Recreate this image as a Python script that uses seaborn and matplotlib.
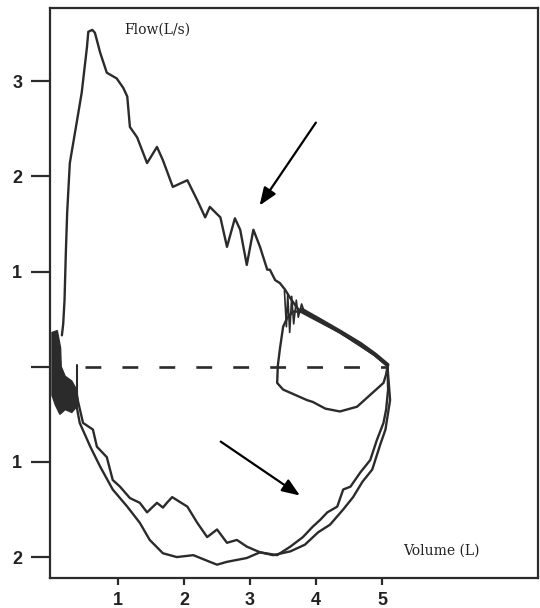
import matplotlib
matplotlib.use("Agg")
import matplotlib.pyplot as plt
import seaborn as sns
import pandas as pd

# ---------------- data (Volume L, Flow L/s) ----------------
exp_vol = [0.15, 0.17, 0.19, 0.21, 0.23, 0.27, 0.38, 0.45, 0.53, 0.55, 0.61, 0.65, 0.73, 0.83,
           0.98, 1.08, 1.14, 1.18, 1.29, 1.44, 1.59, 1.68, 1.83, 2.05, 2.20, 2.32, 2.39,
           2.55, 2.65, 2.77, 2.85, 2.95, 3.05, 3.15, 3.26, 3.30, 3.38, 3.45, 3.53, 3.61, 3.68,
           3.76, 4.06, 4.36, 4.67, 4.89, 5.08]
exp_flow = [0.33, 0.45, 0.70, 1.20, 1.62, 2.14, 2.59, 2.88, 3.36, 3.52, 3.54, 3.51, 3.30, 3.09,
            3.03, 2.93, 2.84, 2.52, 2.41, 2.14, 2.31, 2.17, 1.89, 1.96, 1.75, 1.57, 1.68,
            1.57, 1.26, 1.56, 1.44, 1.07, 1.44, 1.26, 1.02, 1.02, 0.91, 0.88, 0.81, 0.72, 0.65,
            0.58, 0.47, 0.36, 0.22, 0.12, 0.01]

spike_vol = [3.52, 3.55, 3.57, 3.60, 3.63, 3.66, 3.70, 3.73, 3.78, 3.82]
spike_flow = [0.80, 0.42, 0.76, 0.36, 0.74, 0.45, 0.70, 0.52, 0.66, 0.58]

band_vol = [3.78, 4.06, 4.36, 4.67, 4.89, 5.08]
band_flow = [0.60, 0.49, 0.37, 0.24, 0.13, 0.02]

tidal_vol = [5.08, 5.06, 5.02, 4.86, 4.62, 4.36, 4.14, 3.95, 3.86, 3.50, 3.41, 3.42, 3.45,
             3.50, 3.56, 3.65, 3.76]
tidal_flow = [0.00, -0.08, -0.17, -0.27, -0.42, -0.47, -0.44, -0.37, -0.35, -0.24, -0.17,
              0.01, 0.18, 0.42, 0.51, 0.58, 0.58]

insp_b_vol = [5.08, 5.09, 5.06, 5.02, 4.92, 4.82, 4.67, 4.52, 4.41, 4.32, 4.17, 4.06, 3.95,
              3.80, 3.61, 3.41, 3.15, 2.95, 2.80, 2.65, 2.50, 2.35, 2.20, 2.05, 1.82, 1.74,
              1.68, 1.59, 1.44, 1.33, 1.18, 1.03, 0.92, 0.83, 0.68, 0.62, 0.47, 0.38, 0.30]
insp_b_flow = [0.01, -0.24, -0.45, -0.59, -0.77, -0.98, -1.11, -1.26, -1.29, -1.47, -1.53,
               -1.61, -1.68, -1.79, -1.89, -1.98, -1.95, -1.89, -1.82, -1.85, -1.71, -1.79,
               -1.64, -1.47, -1.37, -1.43, -1.48, -1.43, -1.53, -1.43, -1.38, -1.26, -1.19,
               -0.95, -0.84, -0.66, -0.59, -0.32, -0.19]

insp_a_vol = [5.08, 5.12, 5.05, 4.97, 4.85, 4.70, 4.56, 4.41, 4.21, 4.03, 3.83, 3.61, 3.35,
              3.15, 2.95, 2.65, 2.50, 2.39, 2.14, 1.89, 1.68, 1.48, 1.33, 1.14, 0.92, 0.73,
              0.58, 0.42, 0.35]
insp_a_flow = [0.01, -0.35, -0.66, -0.82, -1.08, -1.21, -1.37, -1.50, -1.66, -1.74, -1.87,
               -1.94, -1.98, -1.95, -2.01, -2.05, -2.08, -2.05, -1.98, -2.00, -1.96, -1.82,
               -1.64, -1.47, -1.29, -1.05, -0.84, -0.59, -0.33]

blob_vol = [0.00, 0.08, 0.13, 0.14, 0.20, 0.30, 0.38, 0.40, 0.30, 0.20, 0.12, 0.05, 0.00]
blob_flow = [0.36, 0.38, 0.20, 0.00, -0.10, -0.15, -0.25, -0.40, -0.48, -0.45, -0.50, -0.40,
             -0.30]

zero_vol = [0.50, 5.08]
zero_flow = [0.0, 0.0]

y_ticks = [-2, -1, 0, 1, 2, 3]
y_labels = ["2", "1", "", "1", "2", "3"]
x_ticks = [1, 2, 3, 4, 5]
x_labels = ["1", "2", "3", "4", "5"]

# ---------------- plot ----------------
sns.set_theme(style="white")
plt.rcParams["font.family"] = ["Liberation Sans", "DejaVu Sans"]

fig = plt.figure(figsize=(5.4, 6.08), dpi=100)
ax = fig.add_axes([50 / 540, 30 / 608, 488 / 540, 570 / 608])

ink = "#2b2b2b"

def curve(v, f, lw=1.5, **kw):
    df = pd.DataFrame({"v": v, "f": f})
    sns.lineplot(data=df, x="v", y="f", sort=False, estimator=None, ax=ax,
                 color=ink, linewidth=lw, **kw)

curve(exp_vol, exp_flow, lw=1.7)
curve(spike_vol, spike_flow, lw=1.2)
curve(band_vol, band_flow, lw=3.0)
curve(tidal_vol, tidal_flow, lw=1.7)
curve(insp_b_vol, insp_b_flow, lw=1.7)
curve(insp_a_vol, insp_a_flow, lw=1.7)
ax.fill(blob_vol, blob_flow, color=ink, linewidth=1.0, edgecolor=ink)
ax.plot([0.38, 0.38], [0.02, -0.38], color=ink, linewidth=1.5)
ax.plot(zero_vol, zero_flow, color=ink, linewidth=1.9, dashes=(6, 8))

# arrows
ax.annotate("", xy=(3.12, 1.67), xytext=(4.02, 2.59),
            arrowprops=dict(arrowstyle="-|>,head_length=0.9,head_width=0.35",
                            color="black", lw=1.6))
ax.annotate("", xy=(3.79, -1.37), xytext=(2.52, -0.77),
            arrowprops=dict(arrowstyle="-|>,head_length=0.9,head_width=0.35",
                            color="black", lw=1.6))

ax.text(1.59, 3.54, "Flow(L/s)", family="DejaVu Serif", fontsize=10,
        ha="center", va="center", color="#222222")
ax.text(5.89, -1.93, "Volume (L)", family="DejaVu Serif", fontsize=10,
        ha="center", va="center", color="#222222")

ax.set_xlim(-0.03, 7.36)
ax.set_ylim(-2.22, 3.77)
ax.set_xticks(x_ticks)
ax.set_xticklabels(x_labels)
ax.set_yticks(y_ticks)
ax.set_yticklabels(y_labels)
ax.set_xlabel("")
ax.set_ylabel("")
ax.tick_params(axis="y", direction="out", length=14, width=1.6, color=ink,
               labelsize=13, pad=6, left=True)
ax.tick_params(axis="x", direction="out", length=5, width=1.6, color=ink,
               labelsize=13, pad=5, bottom=True)
for lab in ax.get_xticklabels() + ax.get_yticklabels():
    lab.set_fontweight("bold")
    lab.set_color("#222222")
for s in ax.spines.values():
    s.set_visible(True)
    s.set_color(ink)
    s.set_linewidth(1.6)
ax.grid(False)

fig.savefig("out.png", dpi=100)
